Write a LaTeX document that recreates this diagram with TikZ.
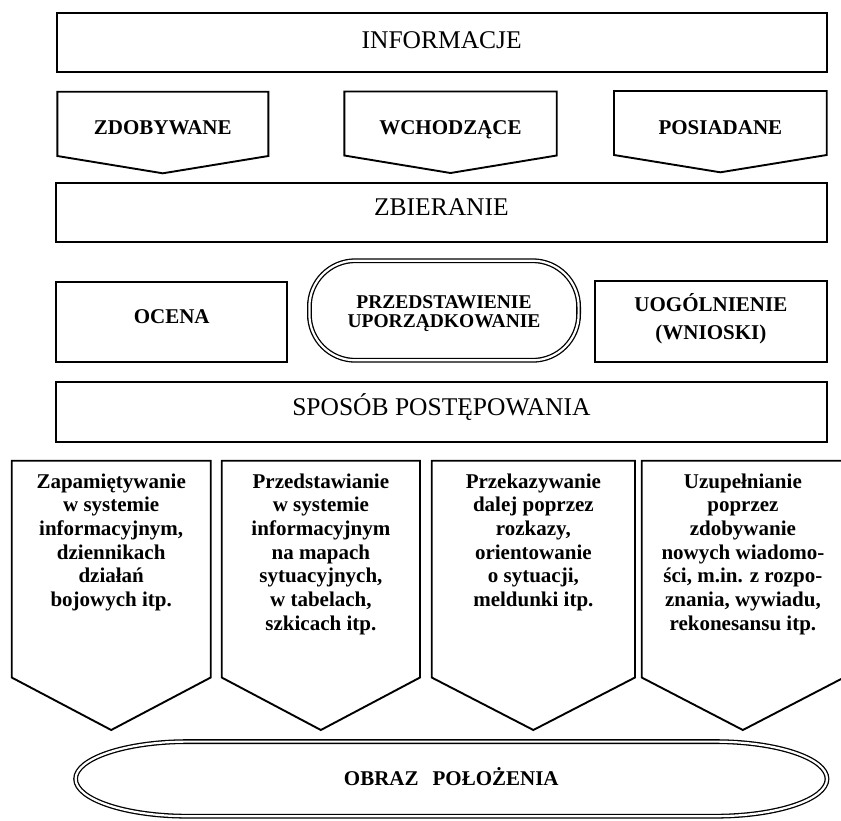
\documentclass[tikz,border=0pt]{standalone}
\usepackage{fontspec}
\setmainfont{Liberation Serif}
% downward arrow box: left, right, top, shoulder, tip
\newcommand{\downbox}[5]{%
  \draw[outline] (#1,#3) -- (#2,#3) -- (#2,#4) -- ({(#1+#2)/2},#5) -- (#1,#4) -- cycle;}
\begin{document}
\begin{tikzpicture}[x=1pt,y=-1pt,
  every node/.style={inner sep=0pt, outer sep=0pt},
  outline/.style={draw=black, line width=1.9pt, line join=miter},
  twin/.style={draw=black, line width=1.3pt, double=white, double distance=2.2pt},
  titletext/.style={font=\fontsize{25.5}{28}\selectfont, anchor=base},
  boldtext/.style={font=\bfseries\fontsize{21}{25}\selectfont, anchor=base},
  pairtext/.style={font=\bfseries\fontsize{21}{28}\selectfont, align=center, anchor=base},
  ovaltext/.style={font=\bfseries\fontsize{19.5}{19}\selectfont, align=center, anchor=base},
  notetext/.style={font=\bfseries\fontsize{21}{23.7}\selectfont, align=center, anchor=base},
]
\path[use as bounding box, fill=white] (0,0) rectangle (841,820);

% sources of information
\node[outline, minimum width=770pt, minimum height=58.4pt] (info) at (441.7,42.5) {};
\node[titletext] (infoT) at (441.7,48.5) {INFORMACJE};

\downbox{57.3}{268.3}{91.7}{156}{173.3}
\downbox{344.3}{556.7}{91.5}{155.5}{173}
\downbox{614}{826.7}{91}{155}{172.3}
\node[boldtext] (zdob) at (162.8,134.2) {ZDOBYWANE};
\node[boldtext] (wcho) at (450.5,134.2) {WCHODZĄCE};
\node[boldtext] (posi) at (720.4,134.2) {POSIADANE};

% collection
\node[outline, minimum width=770.7pt, minimum height=59pt] (zbier) at (441.4,212.2) {};
\node[titletext] (zbierT) at (441.4,215.5) {ZBIERANIE};

% processing row (multi-line labels are placed by their last baseline)
\node[outline, minimum width=231.3pt, minimum height=80pt] (ocena) at (171.7,321.7) {};
\node[boldtext] (ocenaT) at (171.7,323.6) {OCENA};
\node[twin, rounded corners=46pt, minimum width=269.2pt, minimum height=99.6pt] (przed) at (444,310.5) {};
\node[ovaltext] (przedT) at (444,327) {PRZEDSTAWIENIE\\UPORZĄDKOWANIE};
\node[outline, minimum width=231.7pt, minimum height=80.7pt] (uogol) at (710.9,321.4) {};
\node[pairtext] (uogolT) at (710.9,339) {UOGÓLNIENIE\\(WNIOSKI)};

% procedure
\node[outline, minimum width=770.7pt, minimum height=60pt] (sposob) at (441.4,411.7) {};
\node[titletext] (sposobT) at (441.4,415) {SPOSÓB POSTĘPOWANIA};

% four ways of handling the information
\downbox{11.7}{210.7}{460.7}{677.5}{730}
\downbox{221.7}{420}{460.7}{677.5}{730}
\downbox{431.7}{635}{460.7}{677.5}{730}
\downbox{641.7}{844}{460.7}{677.5}{730}
\node[notetext] (zap) at (111.2,606.5) {Zapamiętywanie\\w systemie\\informacyjnym,\\dziennikach\\działań\\bojowych itp.};
\node[notetext] (prz) at (320.9,630.2) {Przedstawianie\\w systemie\\informacyjnym\\na mapach\\sytuacyjnych,\\w tabelach,\\szkicach itp.};
\node[notetext] (prk) at (533.4,606.5) {Przekazywanie\\dalej poprzez\\rozkazy,\\orientowanie\\o sytuacji,\\meldunki itp.};
\node[notetext] (uzu) at (742.9,630.2) {Uzupełnianie\\poprzez\\zdobywanie\\nowych wiadomo-\\ści, m.in. z rozpo-\\znania, wywiadu,\\rekonesansu itp.};

% resulting picture of the situation
\draw[twin] (75.6,778.9)
  .. controls (75.6,758.3) and (126.1,741.6) .. (187.6,741.6)
  -- (715,741.6)
  .. controls (776.9,741.6) and (827,758.3) .. (827,778.9)
  .. controls (827,799.5) and (776.9,816.2) .. (715,816.2)
  -- (187.6,816.2)
  .. controls (126.1,816.2) and (75.6,799.5) .. (75.6,778.9) -- cycle;
\node[boldtext] (obraz) at (451.3,785) {OBRAZ\hspace{14pt}POŁOŻENIA};
\end{tikzpicture}
\end{document}
